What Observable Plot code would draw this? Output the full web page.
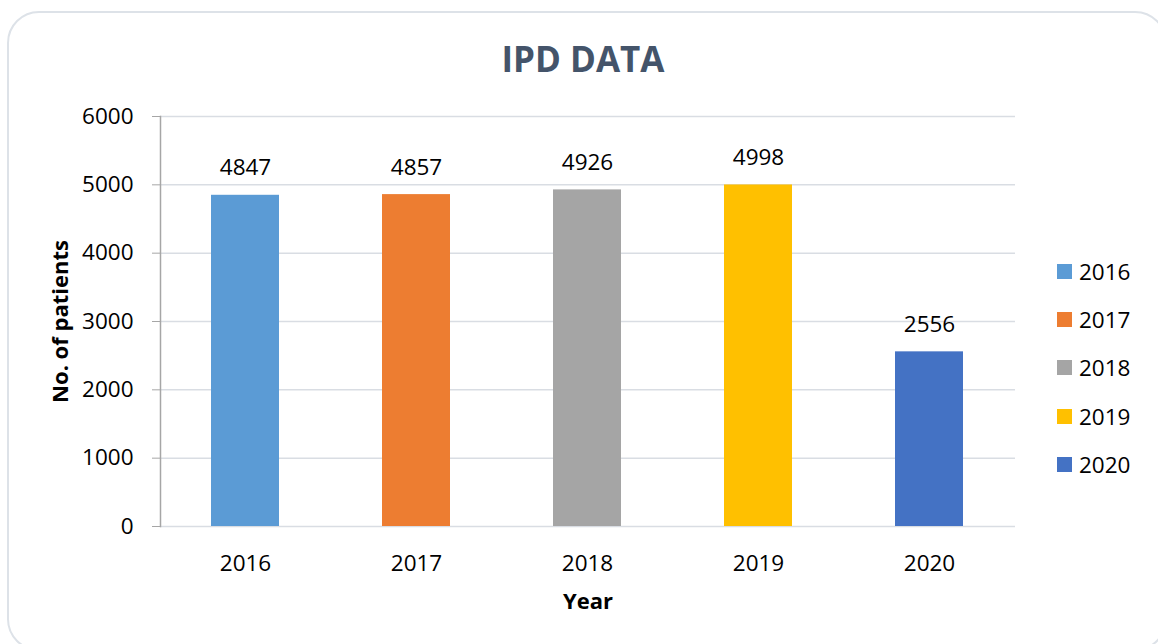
<!DOCTYPE html>
<html>
<head>
<meta charset="utf-8">
<script src="https://cdn.jsdelivr.net/npm/d3@7"></script>
<script src="https://cdn.jsdelivr.net/npm/@observablehq/plot@0.6"></script>
<style>
  html, body { margin: 0; padding: 0; background: #ffffff; }
  #wrap { position: relative; width: 1158px; height: 644px; overflow: hidden; font-family: "Open Sans", sans-serif; }
  #border { position: absolute; left: 7px; top: 11px; width: 1160px; height: 640px; border: 2px solid #dde2e8; border-radius: 32px; box-sizing: border-box; }
  #title { position: absolute; left: 0; width: 1166px; top: 35px; text-align: center; font-size: 35px; font-weight: bold; color: #44546a; }
  #chart { position: absolute; left: 0; top: 0; }
  #legend { position: absolute; left: 1057px; top: 247px; }
  .item { display: flex; align-items: center; height: 48.3px; font-size: 22.5px; color: #000; }
  .sw { width: 15px; height: 15px; margin-right: 7px; }
</style>
</head>
<body>
<div id="wrap">
  <div id="border"></div>
  <div id="title">IPD DATA</div>
  <div id="chart"></div>
  <div id="legend"></div>
</div>
<script>
const years = ["2016", "2017", "2018", "2019", "2020"];
const patients = [4847, 4857, 4926, 4998, 2556];
const colors = ["#5b9bd5", "#ed7d31", "#a5a5a5", "#ffc000", "#4472c4"];
const yTicks = [0, 1000, 2000, 3000, 4000, 5000, 6000];
const xTitle = "Year";
const yTitle = "No. of patients";

const data = years.map((y, i) => ({year: y, value: patients[i]}));

const chart = Plot.plot({
  width: 1158,
  height: 644,
  marginTop: 116,
  marginBottom: 118,
  marginLeft: 160,
  marginRight: 143,
  style: {fontFamily: "Open Sans, sans-serif", fontSize: "22.5px", color: "#000", background: "transparent"},
  x: {domain: years, paddingInner: 0.6, paddingOuter: 0.3, label: null},
  y: {domain: [0, 6000], label: null},
  color: {domain: years, range: colors},
  marks: [
    Plot.gridY(yTicks, {stroke: "#d9dde3", strokeOpacity: 1, strokeWidth: 1.5}),
    Plot.axisY(yTicks, {tickSize: 8, tickPadding: 19, stroke: "#a6a6a6", strokeOpacity: 1, fill: "#000", fontSize: 22.5, tickFormat: d => String(d), label: null}),
    Plot.frame({anchor: "left", stroke: "#a6a6a6", strokeWidth: 1.5}),
    Plot.axisX({tickSize: 0, tickPadding: 29, fill: "#000", fontSize: 22.5, label: null}),
    Plot.barY(data, {x: "year", y: "value", fill: "year"}),
    Plot.text(data, {x: "year", y: "value", text: d => String(d.value), dy: -27, fill: "#000", fontSize: 22.5}),
    Plot.text([xTitle], {frameAnchor: "bottom", text: d => d, dy: 82, fontSize: 22, fontWeight: "bold", fill: "#000"}),
    Plot.text([yTitle], {frameAnchor: "left", textAnchor: "middle", text: d => d, dx: -100, rotate: -90, fontSize: 22, fontWeight: "bold", fill: "#000"})
  ]
});
document.getElementById("chart").appendChild(chart);

const legend = document.getElementById("legend");
years.forEach((y, i) => {
  const item = document.createElement("div");
  item.className = "item";
  const sw = document.createElement("div");
  sw.className = "sw";
  sw.style.background = colors[i];
  const label = document.createElement("span");
  label.textContent = y;
  item.appendChild(sw);
  item.appendChild(label);
  legend.appendChild(item);
});
</script>
</body>
</html>
